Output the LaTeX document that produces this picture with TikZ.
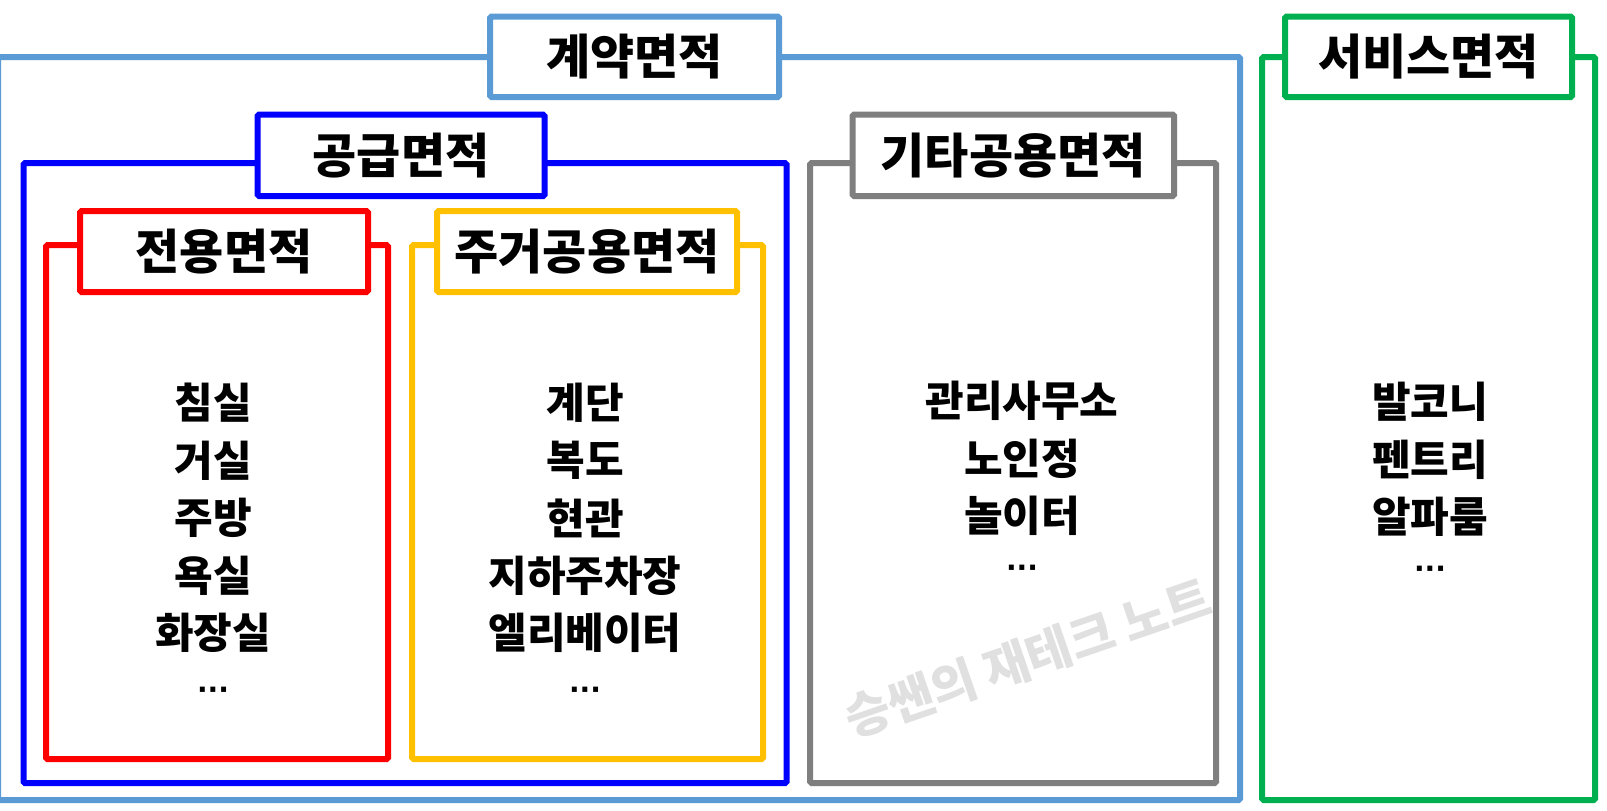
\documentclass[tikz,border=0pt]{standalone}
\usepackage{fontspec}
\newfontfamily\kr{Noto Sans CJK KR}
\newfontfamily\dv{DejaVu Sans}
\definecolor{cLB}{HTML}{5B9BD5}
\definecolor{cB}{HTML}{0000FF}
\definecolor{cR}{HTML}{FF0000}
\definecolor{cY}{HTML}{FFC000}
\definecolor{cG}{HTML}{7F7F7F}
\definecolor{cGr}{HTML}{00B050}
\definecolor{cW}{HTML}{E0E0E0}
\begin{document}
\begin{tikzpicture}[x=1pt,y=-1pt,
  frame/.style={line width=6pt, rounded corners=1.5pt},
  label/.style={line width=6pt, fill=white, rounded corners=1.5pt, inner sep=0pt, text=black,
    font=\kr\bfseries\fontsize{48}{48}\selectfont},
  item/.style={font=\kr\bfseries\fontsize{42}{42}\selectfont, inner sep=0pt},
  dots/.style={font=\dv\bfseries\fontsize{28}{28}\selectfont, inner sep=0pt}]
\useasboundingbox[fill=white] (0,0) rectangle (1607,811);
% frames
\draw[frame, cLB] (-2,57) rectangle (1240,800);
\draw[frame, cB] (23.5,163) rectangle (786.5,783);
\draw[frame, cR] (46,245) rectangle (388,759);
\draw[frame, cY] (412,245) rectangle (763,759);
\draw[frame, cG] (810,163) rectangle (1216,783);
\draw[frame, cGr] (1262,57) rectangle (1595,800);
% labels
\node[label, draw=cLB, minimum width=289pt, minimum height=80.5pt] (contract) at (634.5,56.75) {계약면적};
\node[label, draw=cB, minimum width=287pt, minimum height=81.5pt] (supply) at (401,155.25) {공급면적};
\node[label, draw=cR, minimum width=288pt, minimum height=81pt] (exclusive) at (224,251.5) {전용면적};
\node[label, draw=cY, minimum width=300pt, minimum height=81pt] (rescommon) at (587,251.5) {주거공용면적};
\node[label, draw=cG, minimum width=321.5pt, minimum height=81.5pt] (othercommon) at (1013.25,155.25) {기타공용면적};
\node[label, draw=cGr, minimum width=287pt, minimum height=80.5pt] (service) at (1428.5,56.75) {서비스면적};
% items
\foreach \t [count=\i] in {침실,거실,주방,욕실,화장실}
  \node[item] (ex\i) at (213,{403+57.5*(\i-1)}) {\t};
\node[dots] (exdots) at (213,{403+57.5*5+3}) {···};
\foreach \t [count=\i] in {계단,복도,현관,지하주차장,엘리베이터}
  \node[item] (rc\i) at (585,{403+57.5*(\i-1)}) {\t};
\node[dots] (rcdots) at (585,{403+57.5*5+3}) {···};
\foreach \t [count=\i] in {관리사무소,노인정,놀이터}
  \node[item] (oc\i) at (1022,{401+57.5*(\i-1)}) {\t};
\node[dots] (ocdots) at (1022,{401+57.5*3-2}) {···};
\foreach \t [count=\i] in {발코니,펜트리,알파룸}
  \node[item] (sv\i) at (1430,{402+57.5*(\i-1)}) {\t};
\node[dots] (svdots) at (1430,{402+57.5*3-2}) {···};
% watermark
\node[font=\kr\bfseries\fontsize{49}{49}\selectfont, text=cW, rotate=19, inner sep=0pt] (wm) at (1028,658) {승쌘의 재테크 노트};
\end{tikzpicture}
\end{document}
